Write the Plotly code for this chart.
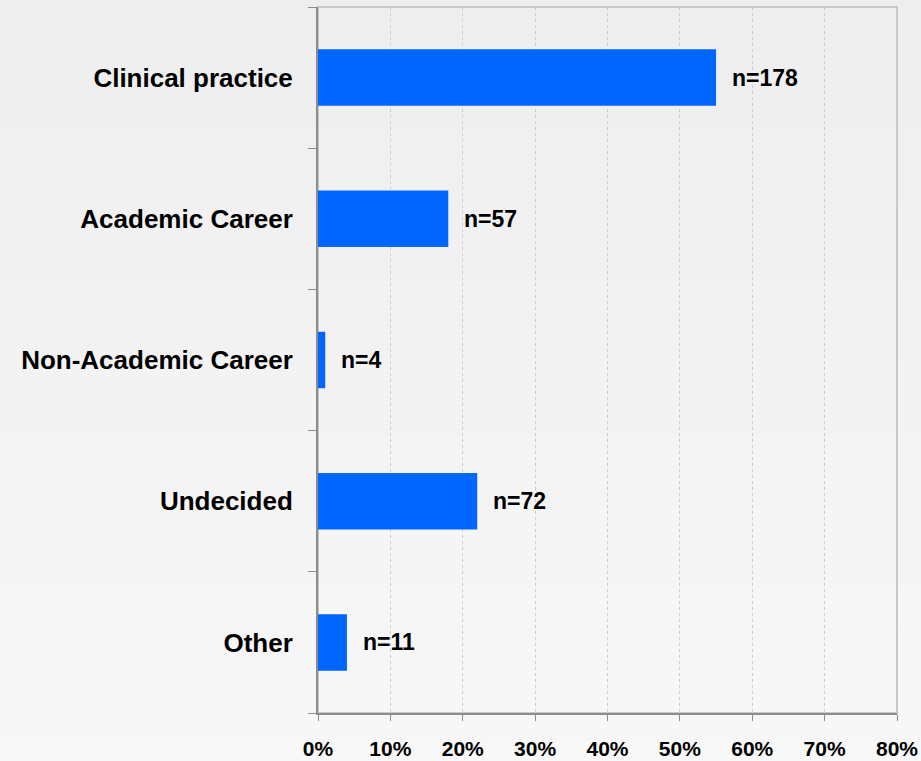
import plotly.graph_objects as go

# Career plans data (percent of respondents)
categories = ['Clinical practice', 'Academic Career', 'Non-Academic Career', 'Undecided', 'Other']
percents = [55, 18, 1, 22, 4]
counts = [178, 57, 4, 72, 11]
tick_vals = [0, 10, 20, 30, 40, 50, 60, 70, 80]
tick_text = ['0%', '10%', '20%', '30%', '40%', '50%', '60%', '70%', '80%']

fig = go.Figure(go.Bar(
    x=percents, y=categories, orientation='h',
    marker=dict(color='#0066ff', line=dict(width=0)),
    width=0.4, hoverinfo='skip'))

# n= labels beside each bar
for cat, pct, n in zip(categories, percents, counts):
    fig.add_annotation(x=pct, y=cat, text='<b>n=%d</b>' % n, showarrow=False,
                       xanchor='left', xshift=14,
                       font=dict(family='Liberation Sans, Arial', size=23, color='black'))

# soft vertical gradient for the background
steps = 24
for i in range(steps):
    c = int(238 + (249 - 238) * i / (steps - 1))
    fig.add_shape(type='rect', xref='paper', yref='paper', layer='below',
                  x0=-1, x1=2, y0=1.1 - (i + 1) * 1.3 / steps, y1=1.1 - i * 1.3 / steps,
                  fillcolor='rgb(%d,%d,%d)' % (c, c, c), line=dict(width=0))

# light frame on top and right of plot area
fig.add_shape(type='rect', xref='x domain', yref='y domain', x0=0, x1=1, y0=0, y1=1,
              line=dict(color='#c8c8c8', width=2), layer='below')

fig.update_layout(
    width=921, height=761,
    margin=dict(l=318, r=24, t=7, b=48),
    paper_bgcolor='#f0f0f0', plot_bgcolor='rgba(0,0,0,0)',
    showlegend=False,
    font=dict(family='Liberation Sans, Arial', color='black'),
    xaxis=dict(range=[0, 80], tickvals=tick_vals,
               ticktext=['<b>%s</b>' % t for t in tick_text],
               tickfont=dict(size=21), ticks='outside', ticklen=6, tickcolor='#8c8c8c',
               showline=True, linecolor='#8c8c8c', linewidth=2,
               showgrid=True, gridcolor='#cccccc', griddash='dot', gridwidth=1,
               zeroline=False, ticklabelstandoff=10, automargin=False, fixedrange=True),
    yaxis=dict(autorange='reversed', tickson='boundaries', ticks='outside', ticklen=8,
               tickcolor='#8c8c8c', showline=True, linecolor='#8c8c8c', linewidth=2,
               showgrid=False, tickfont=dict(size=26), ticklabelstandoff=18,
               tickvals=categories, ticktext=['<b>%s</b>' % c for c in categories],
               zeroline=False, automargin=False, fixedrange=True),
)

fig.write_html('out.html', config={'displayModeBar': False},
               post_script="document.body.style.margin='0';")
